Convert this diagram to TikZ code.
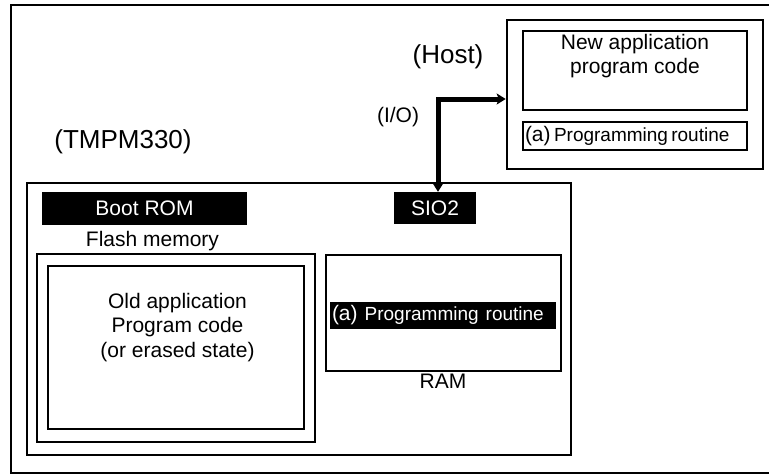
\documentclass[tikz,border=0pt]{standalone}
\usepackage{fontspec}
\setmainfont{Liberation Sans}
\usetikzlibrary{arrows.meta, positioning}
\newcommand{\bigtxt}{\fontsize{26}{30}\selectfont}
\newcommand{\midtxt}{\fontsize{21}{24.5}\selectfont}
\newcommand{\smalltxt}{\fontsize{19}{22}\selectfont}

\begin{document}
\begin{tikzpicture}[x=1pt, y=-1pt,
  plainbox/.style={draw=black, line width=2pt, inner sep=0pt},
  blackbar/.style={fill=black, text=white, inner sep=0pt, font=\midtxt},
  iolink/.style={line width=5pt, {Stealth[length=9pt, width=11pt, inset=2pt]}-{Stealth[length=9pt, width=11pt, inset=2pt]}}]

\useasboundingbox (0,0) rectangle (769,475);

% Outer frame (open on the right)
\draw[line width=2.6pt] (769,5) -- (11,5) -- (11,473) -- (769,473);

% Host side
\node[plainbox, line width=2.6pt, minimum width=256pt, minimum height=149pt] (host) at (635,94.5) {};
\node[plainbox, line width=1.4pt, minimum width=224pt, minimum height=79pt] (newcode) at (635,70.5) {};
\node[align=center, font=\midtxt, inner sep=0pt] (newcodetxt) at (635,56) {New application\\program code};
\node[plainbox, line width=1.6pt, minimum width=224pt, minimum height=28pt, text width=220pt, align=left] (hostroutine) at (635,136)
  {{\midtxt(a)} {\smalltxt Programming routine}};
\node[font=\bigtxt] (hostlbl) at (448,57) {(Host)};

% TMPM330 side
\node[font=\bigtxt] (chiplbl) at (123,142) {(TMPM330)};
\node[plainbox, minimum width=544pt, minimum height=272pt] (chip) at (299,319) {};
\node[blackbar, minimum width=205pt, minimum height=33pt] (bootrom) at (144.5,208.5) {Boot ROM};
\node[blackbar, minimum width=82pt, minimum height=32pt] (sio2) at (435,208) {SIO2};

% Flash memory
\node[font=\midtxt] (flashlbl) at (152.5,241) {Flash memory};
\node[plainbox, line width=2.6pt, minimum width=278pt, minimum height=188pt] (flashout) at (176,348) {};
\node[plainbox, line width=2pt, minimum width=256pt, minimum height=163pt] (flashin) at (176,347.5) {};
\node[align=center, font=\midtxt, inner sep=0pt] (oldcode) at (177.5,327.5) {Old application\\Program code\\(or erased state)};

% RAM
\node[plainbox, minimum width=235pt, minimum height=116pt] (ram) at (443.5,313) {};
\node[blackbar, minimum width=226pt, minimum height=27.5pt, text width=222pt, align=left] (ramroutine) at (443,315.5)
  {{\midtxt(a)} {\smalltxt Programming routine}};
\node[font=\midtxt] (ramlbl) at (443,381) {RAM};

% I/O link
\coordinate (bend) at (438,99);
\draw[iolink] (bend |- sio2.north) -- (bend) -- (host.west |- bend);
\node[font=\midtxt] (iolbl) at (398,117) {(I/O)};

\end{tikzpicture}
\end{document}
